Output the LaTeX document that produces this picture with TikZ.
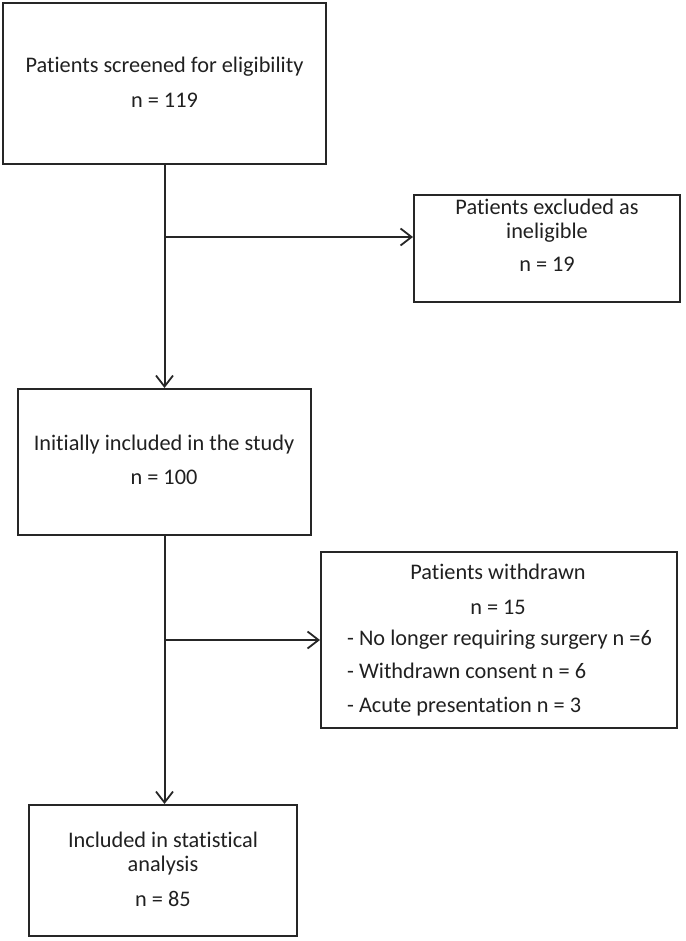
\documentclass[tikz,border=0pt]{standalone}
\usepackage{fontspec}
\setmainfont{Carlito}[Ligatures={NoCommon}]
\usetikzlibrary{arrows.meta}
\definecolor{ink}{HTML}{262626}
\definecolor{txtc}{HTML}{202020}
\tikzset{
  box/.style={draw=ink, line width=2pt, rectangle, inner sep=0pt},
  txt/.style={text=txtc, inner sep=0pt, font=\fontsize{22.3}{24}\selectfont},
  conn/.style={draw=ink, line width=2pt},
  arr/.style={conn, -{Straight Barb[length=11pt,width=17pt,line width=1.8pt]}},
}
\begin{document}
\begin{tikzpicture}[x=1pt,y=-1pt]
\useasboundingbox (0,0) rectangle (685,941);
% boxes
\node[box, minimum width=323pt, minimum height=161pt] (b1) at (164.5,83.5) {};
\node[box, minimum width=266pt, minimum height=107pt] (b2) at (547,248.5) {};
\node[box, minimum width=293pt, minimum height=146pt] (b3) at (164.5,462) {};
\node[box, minimum width=356pt, minimum height=176pt] (b4) at (499,640) {};
\node[box, minimum width=268pt, minimum height=131pt] (b5) at (163,870.5) {};
% texts
\node[txt, align=center] (t1) at (164.5,82.5) {Patients screened for eligibility\\[11pt]n = 119};
\node[txt, align=center] (t2) at (547,235.5) {Patients excluded as\\ineligible\\[9pt]n = 19};
\node[txt, align=center] (t3) at (164,460) {Initially included in the study\\[10pt]n = 100};
\node[txt, align=center] (t4a) at (498,589.5) {Patients withdrawn\\[11pt]n = 15};
\node[txt, align=left, anchor=west] (t4b) at (347,673) {- No longer requiring surgery n =6\\[9.5pt]- Withdrawn consent n = 6\\[9.5pt]- Acute presentation n = 3};
\node[txt, align=center] (t5) at (163,869) {Included in statistical\\analysis\\[11pt]n = 85};
% connectors
\coordinate (j1) at (b1.south |- 0,237);
\coordinate (j2) at (b3.south |- b4.west);
\draw[arr] (b1.south) -- (b3.north);
\draw[arr] (j1) -- (j1 -| b2.west);
\draw[arr] (b3.south) -- (b3.south |- b5.north);
\draw[arr] (j2) -- (b4.west);
\end{tikzpicture}
\end{document}
